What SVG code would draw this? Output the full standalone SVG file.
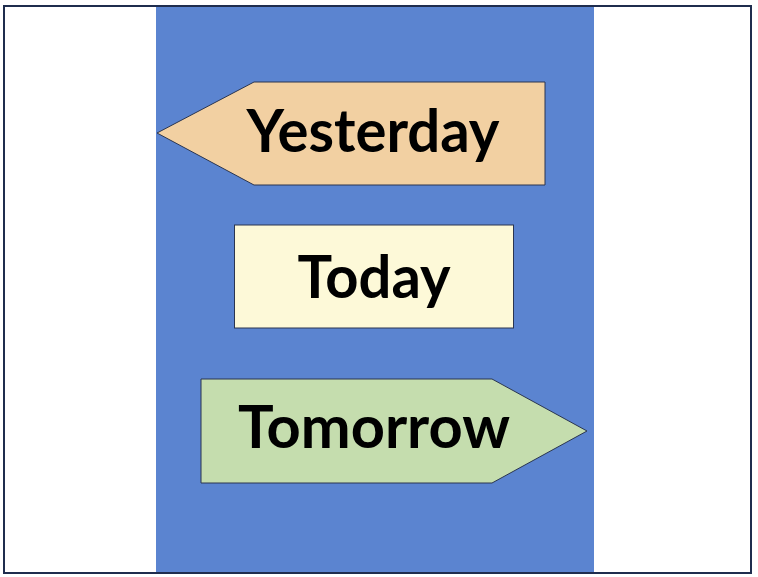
<svg xmlns="http://www.w3.org/2000/svg" width="758" height="577" viewBox="0 0 758 577">
<style>
.lbl{font-family:Lato,"Open Sans","Liberation Sans",sans-serif;font-weight:bold;font-size:59px;fill:#000;text-anchor:middle}
.shp{stroke:#2A3550;stroke-width:1}
</style>
<rect x="0" y="0" width="758" height="577" fill="#fff"/>
<rect id="panel" x="156" y="6" width="438" height="567" fill="#5B84D0"/>
<rect id="frame" x="4" y="6" width="747" height="567" fill="none" stroke="#1F2D4E" stroke-width="2"/>
<g id="yesterday">
<polygon class="shp" points="157,133 254,82 545,82 545,185 254,185" fill="#F2D0A2"/>
<text class="lbl" x="373" y="152" textLength="253" lengthAdjust="spacingAndGlyphs">Yesterday</text>
</g>
<g id="today">
<rect class="shp" x="234.5" y="225" width="279" height="103" fill="#FDF9D8"/>
<text class="lbl" x="374" y="298" textLength="153" lengthAdjust="spacingAndGlyphs">Today</text>
</g>
<g id="tomorrow">
<polygon class="shp" points="201,379 492,379 587,431 492,483 201,483" fill="#C5DDAE"/>
<text class="lbl" x="374" y="448" textLength="272" lengthAdjust="spacingAndGlyphs">Tomorrow</text>
</g>
<g id="connectors"></g>
</svg>
